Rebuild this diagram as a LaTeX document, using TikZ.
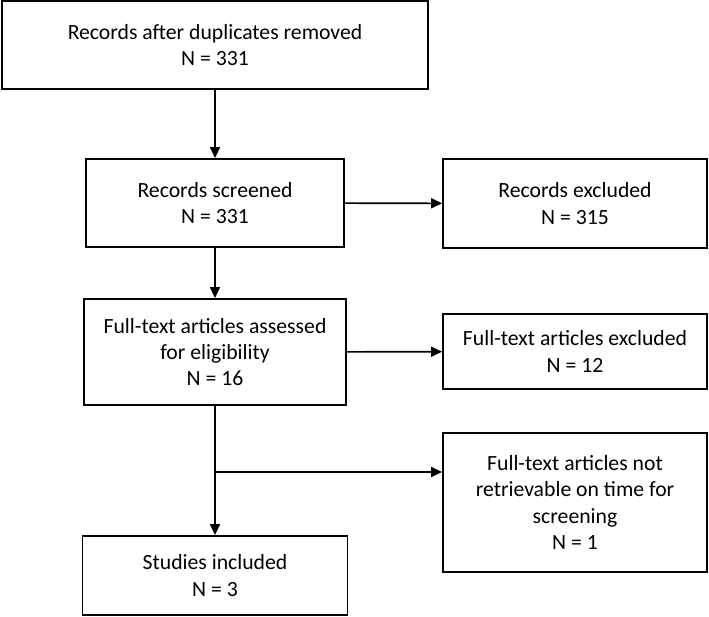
\documentclass[tikz,border=0pt]{standalone}
\usepackage{fontspec}
\setmainfont{Carlito}
\usetikzlibrary{arrows.meta}

\begin{document}
\begin{tikzpicture}[x=1pt, y=-1pt,
  box/.style={draw=black, line width=1.8pt, fill=white, align=center, inner sep=0pt, font=\fontsize{21.7}{26.3}\selectfont, text=black},
  arrow/.style={draw=black, line width=1.6pt, -{Triangle[length=11pt,width=10pt]}}
]
\useasboundingbox (0,0) rectangle (709,616);

\node[box, minimum width=426pt, minimum height=88pt] (dup) at (215,45) {Records after duplicates removed\\N = 331};
\node[box, minimum width=258pt, minimum height=88pt] (screen) at (215,203) {Records screened\\N = 331};
\node[box, minimum width=264pt, minimum height=89pt] (recex) at (575,203.5) {Records excluded\\N = 315};
\node[box, minimum width=262pt, minimum height=106pt] (full) at (215,352) {Full-text articles assessed\\for eligibility\\N = 16};
\node[box, minimum width=264pt, minimum height=75pt] (fullex) at (575,351.5) {Full-text articles excluded\\N = 12};
\node[box, minimum width=264pt, minimum height=139pt] (notret) at (575,502.5) {Full-text articles not\\retrievable on time for\\screening\\N = 1};
\node[box, minimum width=265pt, minimum height=79pt] (incl) at (215,575.5) {Studies included\\N = 3};

\coordinate (split) at (215,472);

\draw[arrow] (dup) -- (screen);
\draw[arrow] (screen) -- (recex);
\draw[arrow] (screen) -- (full);
\draw[arrow] (full) -- (fullex);
\draw[arrow] (full) -- (incl);
\draw[arrow] (split) -- (split -| notret.west);
\end{tikzpicture}
\end{document}
